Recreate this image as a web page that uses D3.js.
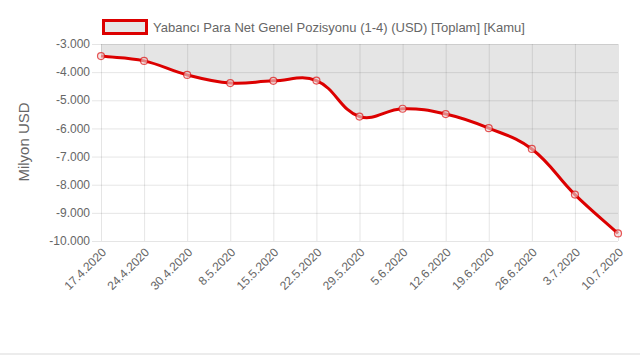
<!DOCTYPE html>
<html><head><meta charset="utf-8">
<script src="https://cdnjs.cloudflare.com/ajax/libs/d3/7.8.5/d3.min.js"></script>
<style>
html,body{margin:0;padding:0;background:#fff;}
svg{display:block;font-family:"Liberation Sans",Arial,Helvetica,sans-serif;}
</style></head>
<body>
<svg id="c" width="640" height="360"></svg>
<script>
const categories = ["17.4.2020","24.4.2020","30.4.2020","8.5.2020","15.5.2020","22.5.2020","29.5.2020","5.6.2020","12.6.2020","19.6.2020","26.6.2020","3.7.2020","10.7.2020"];
const values = [-3430,-3600,-4100,-4390,-4310,-4300,-5580,-5300,-5490,-5990,-6730,-8350,-9730];
const yTicks = [-3000,-4000,-5000,-6000,-7000,-8000,-9000,-10000];
const seriesName = "Yabancı Para Net Genel Pozisyonu (1-4) (USD) [Toplam] [Kamu]";
const yTitle = "Milyon USD";

(function(){
const svg = d3.select("#c");
const L = 101, R = 618, T = 44, B = 241;
const x = d3.scalePoint().domain(categories).range([L, R]);
const y = d3.scaleLinear().domain([-10000, -3000]).range([B, T]);
const grid = "rgba(0,0,0,0.1)";
const txt = "#666";
const fmt = v => d3.format(",")(v).replace(/,/g, ".").replace("−","-");

// bottom page separator
svg.append("rect").attr("x",0).attr("y",353).attr("width",640).attr("height",2).attr("fill","#ececec");

// grid
const g = svg.append("g");
g.selectAll("line.h").data(yTicks).join("line")
  .attr("x1", L-9).attr("x2", R).attr("y1", d=>y(d)+0.5).attr("y2", d=>y(d)+0.5)
  .attr("stroke", grid).attr("stroke-width",1);
g.selectAll("line.v").data(categories).join("line")
  .attr("x1", d=>x(d)+0.5).attr("x2", d=>x(d)+0.5).attr("y1", T).attr("y2", B)
  .attr("stroke", grid).attr("stroke-width",1);

// y tick labels
svg.append("g").selectAll("text").data(yTicks).join("text")
  .attr("x", 90).attr("y", d=>y(d)).attr("dy","0.35em").attr("text-anchor","end")
  .attr("fill", txt).attr("font-size", 12).text(fmt);

// x tick labels
svg.append("g").selectAll("text").data(categories).join("text")
  .attr("transform", d=>`translate(${x(d)+3},${250}) rotate(-45)`)
  .attr("text-anchor","end").attr("dy","0.35em")
  .attr("fill", txt).attr("font-size", 12).text(d=>d);

// y title
svg.append("text").attr("transform","translate(29,142) rotate(-90)")
  .attr("text-anchor","middle").attr("fill", txt).attr("font-size", 15).text(yTitle);

// Chart.js-like spline (tension 0.4)
const pts = categories.map((c,i)=>[x(c), y(values[i])]);
const clampY = v => Math.max(T, Math.min(B, v));
const cp = pts.map((c,i)=>{
  const p = pts[Math.max(0,i-1)], n = pts[Math.min(pts.length-1,i+1)];
  const d01 = Math.hypot(c[0]-p[0], c[1]-p[1]);
  const d12 = Math.hypot(n[0]-c[0], n[1]-c[1]);
  let s01 = d01/(d01+d12), s12 = d12/(d01+d12);
  if(isNaN(s01)) s01=0; if(isNaN(s12)) s12=0;
  const fa = 0.4*s01, fb = 0.4*s12;
  return {
    prev:[c[0]-fa*(n[0]-p[0]), clampY(c[1]-fa*(n[1]-p[1]))],
    next:[c[0]+fb*(n[0]-p[0]), clampY(c[1]+fb*(n[1]-p[1]))]
  };
});
function spline(path){
  path.moveTo(pts[0][0], pts[0][1]);
  for(let i=1;i<pts.length;i++){
    const a = cp[i-1].next, b = cp[i].prev;
    path.bezierCurveTo(a[0], a[1], b[0], b[1], pts[i][0], pts[i][1]);
  }
  return path;
}
const lp = d3.path(); spline(lp);
const ap = d3.path(); spline(ap); ap.lineTo(R, T); ap.lineTo(L, T); ap.closePath();

svg.append("path").attr("d", ap.toString()).attr("fill","rgba(0,0,0,0.1)");
svg.append("path").attr("d", lp.toString()).attr("fill","none").attr("stroke","#dc0000").attr("stroke-width",3);
svg.append("g").selectAll("circle").data(pts).join("circle")
  .attr("cx", d=>d[0]).attr("cy", d=>d[1]).attr("r",3.5)
  .attr("fill","rgba(235,215,215,0.6)").attr("stroke","rgba(220,0,0,0.65)").attr("stroke-width",1.2);

// legend
svg.append("rect").attr("x",103.5).attr("y",20.5).attr("width",43).attr("height",13)
  .attr("fill","#e6e6e6").attr("stroke","#dc0000").attr("stroke-width",3);
svg.append("text").attr("x",153).attr("y",27).attr("dy","0.35em").attr("fill",txt)
  .attr("font-size",13).text(seriesName);
})();
</script>
</body></html>
